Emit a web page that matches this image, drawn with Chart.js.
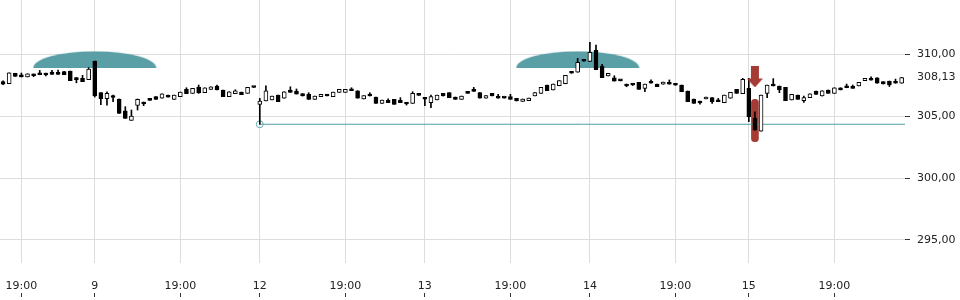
<!DOCTYPE html>
<html><head><meta charset="utf-8">
<script src="https://cdn.jsdelivr.net/npm/chart.js@4.4.1/dist/chart.umd.min.js"></script>
<style>html,body{margin:0;padding:0;background:#fff;}canvas{display:block;}</style>
</head><body>
<canvas id="c" width="960" height="300"></canvas>
<script>
// ---- data (one candle per 15 minutes, index = candle number) ----
const opens = [307.80,307.63,308.47,308.35,308.17,308.41,308.51,308.49,308.57,308.55,308.60,308.65,308.00,308.06,307.96,309.46,306.90,306.41,306.55,306.39,305.44,304.67,305.88,306.15,306.41,306.58,306.45,306.71,306.36,306.58,307.17,306.85,307.35,306.90,307.17,307.44,307.12,306.58,306.82,306.95,306.85,307.36,305.96,306.23,306.31,306.71,306.45,307.12,307.04,306.82,306.77,306.36,306.58,306.77,306.58,306.93,306.93,307.22,307.06,306.39,306.77,306.55,306.04,306.28,306.36,306.28,306.12,306.04,306.73,306.53,306.09,306.31,306.85,306.90,306.55,306.36,306.96,307.18,306.90,306.45,306.85,306.63,306.52,306.58,306.45,306.20,306.26,306.63,306.85,307.52,307.12,307.46,307.62,308.60,308.55,309.48,309.43,310.35,309.05,308.25,308.11,307.89,307.60,307.62,307.74,307.25,307.74,307.60,307.58,307.71,307.66,307.52,307.04,306.39,306.23,306.39,306.50,306.31,306.09,306.45,307.17,306.82,307.25,304.83,303.80,306.85,307.52,307.44,307.33,306.31,306.71,306.25,306.50,307.04,306.63,307.12,306.85,307.30,307.46,307.38,307.44,307.87,308.06,308.11,307.79,307.84,307.79,307.66];
const highs = [307.85,308.51,308.47,308.49,308.43,308.41,308.70,308.49,308.70,308.72,308.62,308.65,308.14,308.30,308.92,309.46,306.90,306.98,306.71,306.39,305.77,305.50,306.39,306.15,306.41,306.58,306.80,306.71,306.71,306.95,307.30,307.25,307.52,307.30,307.38,307.52,307.12,306.98,307.14,306.95,307.33,307.36,306.44,307.46,306.63,306.71,306.98,307.38,307.20,306.82,306.90,306.63,306.77,306.77,306.95,307.17,307.17,307.30,307.06,306.66,306.90,306.55,306.31,306.40,306.36,306.50,306.12,306.98,306.73,306.53,306.71,306.71,306.85,306.90,306.55,306.63,306.96,307.33,306.90,306.66,306.85,306.77,306.52,306.77,306.45,306.39,306.47,306.90,307.33,307.52,307.60,307.87,308.30,308.60,309.68,309.48,310.97,310.75,309.20,308.47,308.27,307.89,307.60,307.62,307.74,307.60,307.93,307.60,307.76,307.93,307.66,307.52,307.04,306.39,306.23,306.55,306.50,306.44,306.71,306.93,307.17,308.06,308.06,305.36,306.71,307.52,308.04,307.44,307.33,306.77,306.71,306.63,306.80,307.04,307.06,307.12,307.30,307.30,307.60,307.52,307.74,308.06,308.19,308.11,307.79,307.84,308.00,308.14];
const lows = [307.55,307.63,308.22,308.17,308.17,308.19,308.35,308.25,308.38,308.38,308.35,307.87,307.70,307.79,307.96,306.55,305.93,305.90,306.17,305.23,304.83,304.67,305.50,305.85,306.28,306.36,306.45,306.53,306.36,306.58,306.82,306.85,306.85,306.90,307.17,307.12,306.58,306.58,306.82,306.74,306.85,307.32,304.35,306.23,306.31,306.17,306.45,306.93,306.79,306.63,306.36,306.36,306.58,306.63,306.58,306.93,306.93,307.06,306.45,306.39,306.63,306.04,306.04,306.09,305.96,306.10,305.90,306.04,306.69,305.85,305.69,306.31,306.63,306.50,306.36,306.36,306.85,307.00,306.45,306.45,306.63,306.45,306.46,306.36,306.23,306.20,306.26,306.63,306.85,307.06,307.12,307.46,307.62,308.47,308.55,309.44,309.43,308.76,308.11,308.25,307.84,307.85,307.38,307.48,307.17,306.98,307.66,307.38,307.58,307.58,307.50,306.98,306.17,306.04,305.98,306.39,306.04,306.17,306.09,306.45,306.85,306.82,304.56,303.85,303.80,306.50,307.44,306.90,306.25,306.31,306.36,306.12,306.50,306.77,306.63,306.85,306.85,307.12,307.30,307.25,307.44,307.87,307.92,307.66,307.60,307.40,307.66,307.66];
const closes = [307.58,308.51,308.22,308.17,308.43,308.27,308.35,308.33,308.38,308.38,308.35,307.87,307.96,307.79,308.81,306.63,306.41,306.85,306.51,305.23,304.83,305.02,306.37,305.99,306.28,306.36,306.80,306.53,306.71,306.95,306.82,307.25,306.88,307.30,307.38,307.12,306.58,306.98,307.05,306.74,307.33,307.32,306.23,307.06,306.63,306.17,306.98,306.93,306.79,306.63,306.36,306.63,306.77,306.63,306.95,307.17,307.17,307.06,306.45,306.66,306.63,306.04,306.31,306.09,305.96,306.10,305.99,306.85,306.69,306.37,306.58,306.71,306.63,306.50,306.36,306.63,306.85,307.00,306.45,306.66,306.63,306.45,306.46,306.36,306.23,306.39,306.47,306.90,307.33,307.06,307.60,307.87,308.30,308.47,309.35,309.44,310.16,308.76,308.11,308.47,307.84,307.85,307.44,307.52,307.17,307.60,307.66,307.38,307.76,307.58,307.50,306.98,306.17,306.04,306.07,306.55,306.17,306.17,306.71,306.93,306.85,307.98,304.96,303.89,306.71,307.52,307.44,307.12,306.25,306.77,306.36,306.50,306.80,306.77,307.06,306.85,307.30,307.12,307.30,307.25,307.74,308.06,307.92,307.66,307.60,307.52,307.66,308.13];

const xTickPos    = [3, 15, 29, 42, 56, 69, 83, 96, 110, 122, 136];
const xTickLabels = ['19:00','9','19:00','12','19:00','13','19:00','14','19:00','15','19:00'];
const yTicks = [295, 300, 305, 310];
const lastPrice = 308.13;

const supportLevel = 304.35;   // horizontal line
const supportStart = 42;       // candle where it starts
const eventIdx = [15, 94];     // event clouds
const eventLevel = 309.60;
const alertIdx = 123;          // red arrow / marker
const alertLevel = 308.17;
const alertRange = [302.94, 306.37];

// ---- scale ranges ----
const X_MIN = -0.5, X_MAX = 147.55;
const Y_MIN = 293.14, Y_MAX = 314.39;

const TEAL = '#5b9fa6', RED = '#a53b34';

function cloudImg() {
  const c = document.createElement('canvas'); c.width = 124; c.height = 17;
  const g = c.getContext('2d'); g.fillStyle = TEAL;
  g.beginPath(); g.ellipse(62, 17, 61.5, 16.5, 0, Math.PI, 2 * Math.PI); g.closePath(); g.fill();
  return c;
}
function arrowImg() {
  const c = document.createElement('canvas'); c.width = 16; c.height = 21;
  const g = c.getContext('2d'); g.fillStyle = RED;
  g.fillRect(4, 0, 8, 12);
  g.beginPath(); g.moveTo(0, 12); g.lineTo(16, 12); g.lineTo(8, 21); g.closePath(); g.fill();
  return c;
}

const idx = opens.map((_, i) => i);
const bodies = idx.map(i => ({x: i, y: [opens[i], closes[i]]}));
const wicks  = idx.map(i => ({x: i, y: [lows[i], highs[i]]}));
const bodyFill = idx.map(i => closes[i] >= opens[i] ? '#ffffff' : '#000000');

const tickSetter = axis => { axis.ticks = xTickPos.map(v => ({value: v})); };
const fmt = v => v.toFixed(2).replace('.', ',');

Chart.defaults.font.family = "'DejaVu Sans', sans-serif";
Chart.defaults.font.size = 11;
Chart.defaults.color = '#222';

new Chart(document.getElementById('c'), {
  type: 'bar',
  data: {
    datasets: [
      { type: 'line', label: 'events', data: eventIdx.map(x => ({x, y: eventLevel})), showLine: false,
        pointStyle: cloudImg(), pointRadius: 1, pointHoverRadius: 1, order: 9, xAxisID: 'x', yAxisID: 'y' },
      { type: 'bar', label: 'alertzone', data: [{x: alertIdx, y: alertRange}], backgroundColor: RED,
        barThickness: 7, borderRadius: 4, borderSkipped: false, grouped: false, order: 8, xAxisID: 'x', yAxisID: 'y' },
      { type: 'line', label: 'support', data: [{x: supportStart, y: supportLevel}, {x: X_MAX, y: supportLevel}],
        borderColor: '#4f9ea5', borderWidth: 1, pointRadius: [3.5, 0], pointHoverRadius: 0, pointBorderWidth: 1,
        pointBorderColor: '#6aafb5', pointBackgroundColor: 'rgba(255,255,255,0)', order: 7, xAxisID: 'x', yAxisID: 'y' },
      { type: 'bar', label: 'wicks', data: wicks, backgroundColor: '#000', barThickness: 1,
        grouped: false, order: 4, xAxisID: 'x', yAxisID: 'y' },
      { type: 'bar', label: 'candles', data: bodies, backgroundColor: bodyFill, borderColor: '#000',
        borderWidth: 1, borderSkipped: false, barThickness: 4, minBarLength: 2, grouped: false, order: 3,
        xAxisID: 'x', yAxisID: 'y' },
      { type: 'line', label: 'alert', data: [{x: alertIdx, y: alertLevel}], showLine: false,
        pointStyle: arrowImg(), pointRadius: 1, pointHoverRadius: 1, order: 1, xAxisID: 'x', yAxisID: 'y' }
    ]
  },
  options: {
    responsive: false, animation: false, devicePixelRatio: 1,
    layout: { padding: 0, autoPadding: false },
    plugins: { legend: { display: false }, tooltip: { enabled: false } },
    scales: {
      x: {
        type: 'linear', position: 'bottom', min: X_MIN, max: X_MAX, weight: 0, offset: false,
        afterBuildTicks: tickSetter,
        afterFit: s => { s.height = 30; s.paddingLeft = 0; s.paddingRight = 0; },
        ticks: { autoSkip: false, maxRotation: 0, padding: 17, color: '#222',
          callback: v => { const k = xTickPos.indexOf(v); return k >= 0 ? xTickLabels[k] : ''; } },
        grid: { color: '#dddddd', drawTicks: false, offset: false },
        border: { display: false }
      },
      x2: {
        type: 'linear', axis: 'x', position: 'bottom', min: X_MIN, max: X_MAX, weight: 1, offset: false,
        afterBuildTicks: tickSetter,
        afterFit: s => { s.height = 7; s.paddingLeft = 0; s.paddingRight = 0; },
        ticks: { display: false, autoSkip: false },
        grid: { drawOnChartArea: false, drawTicks: true, tickLength: 4, tickColor: '#333', offset: false },
        border: { display: false }
      },
      y: {
        type: 'linear', position: 'right', min: Y_MIN, max: Y_MAX,
        afterBuildTicks: axis => { axis.ticks = [...yTicks, lastPrice].sort((a, b) => a - b).map(v => ({value: v})); },
        afterFit: s => { s.width = 55; s.paddingTop = 0; s.paddingBottom = 0; },
        ticks: { autoSkip: false, padding: 7, color: '#222', callback: v => fmt(v) },
        grid: {
          color: c => (c.tick && c.tick.value === lastPrice) ? 'rgba(0,0,0,0)' : '#dddddd',
          tickColor: c => (c.tick && c.tick.value === lastPrice) ? 'rgba(0,0,0,0)' : '#333',
          tickLength: 5
        },
        border: { display: false }
      }
    }
  }
});
</script>
</body></html>
